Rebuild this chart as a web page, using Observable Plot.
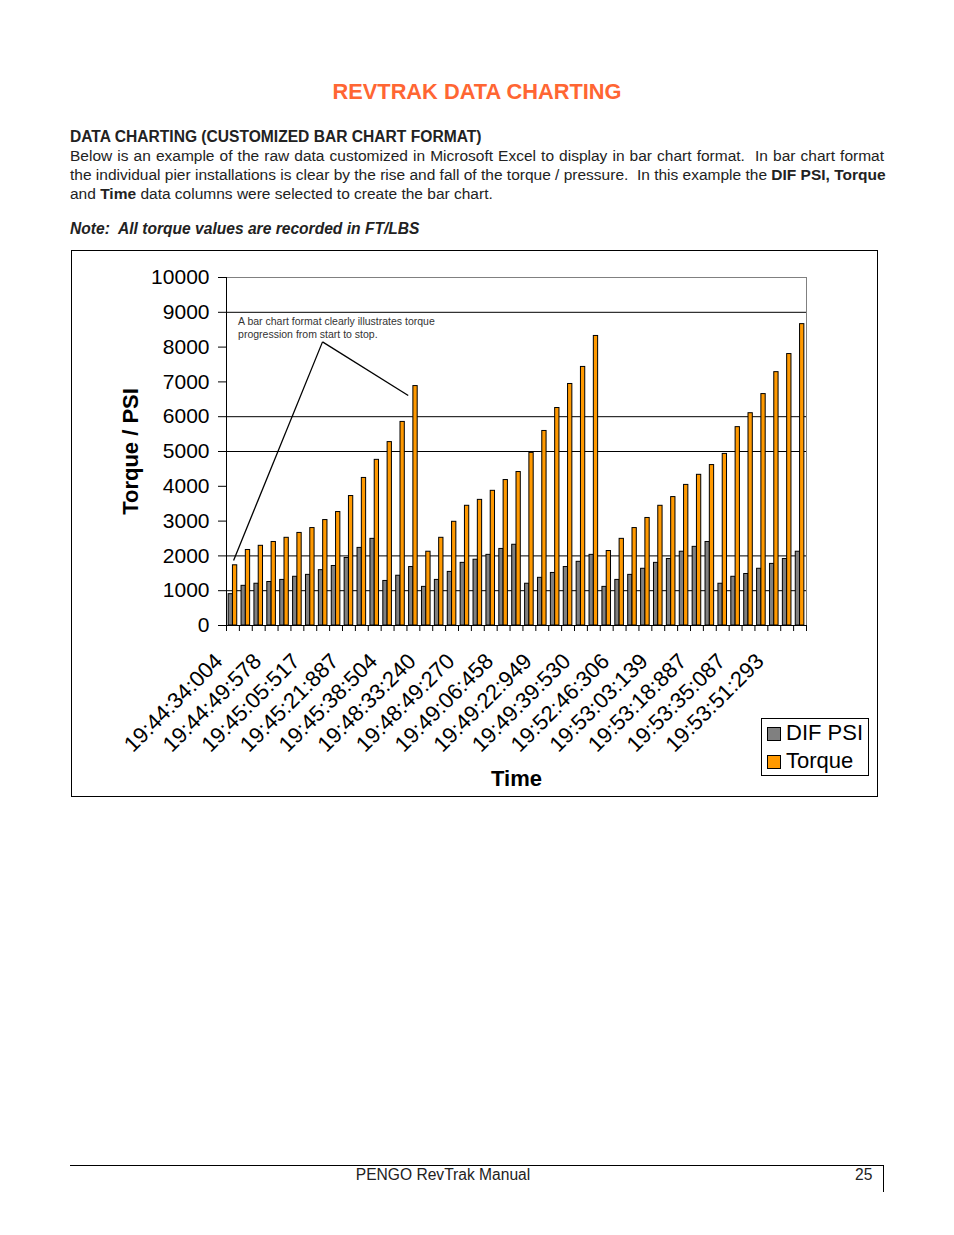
<!DOCTYPE html>
<html>
<head>
<meta charset="utf-8">
<script src="https://cdn.jsdelivr.net/npm/d3@7"></script>
<script src="https://cdn.jsdelivr.net/npm/@observablehq/plot@0.6"></script>
<style>
  body { margin: 0; background: #fff; font-family: "Liberation Sans", Arial, Helvetica, sans-serif; color: #222; }
  #page { position: relative; width: 954px; height: 1235px; overflow: hidden; }
  .abs { position: absolute; white-space: pre; }
  #title { left: 0; width: 954px; top: 79px; text-align: center; color: #FF6633; font-weight: bold; font-size: 21.8px; }
  #heading { left: 70px; top: 128px; font-weight: bold; font-size: 15.6px; }
  .pl { position: absolute; left: 70px; width: 814px; font-size: 15.5px; line-height: 19px; height: 19px; white-space: nowrap; }
  .just { text-align: justify; text-align-last: justify; }
  #note { left: 70px; top: 220px; font-weight: bold; font-style: italic; font-size: 15.6px; }
  #chartbox { position: absolute; left: 71px; top: 250px; width: 805px; height: 545px; border: 1px solid #000; }
  #chartbox svg { display: block; }
  #legend { position: absolute; left: 689px; top: 467px; width: 106px; height: 56px; border: 1px solid #000; background: #fff; font-size: 22px; color: #000; }
  .lrow { position: absolute; left: 5px; height: 26px; line-height: 26px; white-space: pre; }
  .sw { display: inline-block; width: 12px; height: 12px; border: 1px solid #000; vertical-align: -1px; margin-right: 5px; }
  #footline { position: absolute; left: 70px; top: 1165px; width: 813px; height: 0; border-top: 1px solid #000; }
  #footv { position: absolute; left: 883px; top: 1165px; width: 0; height: 27px; border-left: 1px solid #000; }
  #foottext { left: 0; width: 886px; top: 1166px; text-align: center; font-size: 15.6px; }
  #pagenum { left: 855px; top: 1166px; font-size: 15.6px; }
</style>
</head>
<body>
<div id="page">
  <div class="abs" id="title">REVTRAK DATA CHARTING</div>
  <div class="abs" id="heading">DATA CHARTING (CUSTOMIZED BAR CHART FORMAT)</div>
  <div class="pl just" style="top:146px">Below is an example of the raw data customized in Microsoft Excel to display in bar chart format.&nbsp; In bar chart format</div>
  <div class="pl just" style="top:165px">the individual pier installations is clear by the rise and fall of the torque / pressure.&nbsp; In this example the <b>DIF PSI, Torque</b></div>
  <div class="pl" style="top:184px">and <b>Time</b> data columns were selected to create the bar chart.</div>
  <div class="abs" id="note">Note:  All torque values are recorded in FT/LBS</div>
  <div id="chartbox">
    <div id="legend">
      <div class="lrow" style="top:1px"><span class="sw" style="background:#808080"></span>DIF PSI</div>
      <div class="lrow" style="top:29px"><span class="sw" style="background:#FF9900"></span>Torque</div>
    </div>
  </div>
  <div id="footline"></div>
  <div id="footv"></div>
  <div class="abs" id="foottext">PENGO RevTrak Manual</div>
  <div class="abs" id="pagenum">25</div>
</div>
<script>
// ---- data ----
const timeLabels = ["19:44:34:004","19:44:49:578","19:45:05:517","19:45:21:887","19:45:38:504",
  "19:48:33:240","19:48:49:270","19:49:06:458","19:49:22:949","19:49:39:530",
  "19:52:46:306","19:53:03:139","19:53:18:887","19:53:35:087","19:53:51:293"];
const labelEvery = 3;
const difPsi = [900,1140,1200,1250,1310,1400,1455,1590,1710,1940,2230,2490,1280,1430,1680,
  1110,1310,1540,1800,1890,2030,2200,2320,1200,1370,1510,1680,1830,2030,
  1110,1310,1455,1630,1800,1910,2120,2260,2400,1200,1400,1480,1630,1770,1910,2120];
const torque = [1730,2170,2290,2400,2520,2660,2800,3030,3260,3720,4240,4760,5270,5850,6880,
  2120,2520,2980,3440,3610,3870,4180,4410,4960,5590,6250,6940,7430,8320,
  2140,2490,2800,3090,3440,3690,4040,4330,4610,4930,5700,6100,6650,7280,7800,8660];
const seriesNames = ["DIF PSI", "Torque"];
const yTicks = [0,1000,2000,3000,4000,5000,6000,7000,8000,9000,10000];
const gridLines = [1000, 2000, 5000, 6000, 9000];
const noteText = "A bar chart format clearly illustrates torque\nprogression from start to stop.";
// annotation in data space: [group position, value]
const noteAt = {x: 0.9, y: 8900};
const calloutFrom = {x: 7.45, y: 8150};
const calloutTo = [{x: 0.55, y: 1870}, {x: 14.1, y: 6610}];

// ---- build ----
const n = difPsi.length;
const gapWidth = 1/3;            // Excel gap width
const barW = (1 - gapWidth) / 2;
const rows = [];
[difPsi, torque].forEach((vals, s) => vals.forEach((v, i) => {
  const x1 = i + gapWidth / 2 + s * barW;
  rows.push({series: seriesNames[s], x1, x2: x1 + barW, value: v});
}));
const labelPos = timeLabels.map((_, k) => k * labelEvery + 0.5);
const colors = {"DIF PSI": "#808080", "Torque": "#FF9900"};

const chart = Plot.plot({
  width: 805,
  height: 545,
  marginLeft: 154,
  marginRight: 71,
  marginTop: 26,
  marginBottom: 171,
  style: {fontFamily: "'Liberation Sans', Arial, sans-serif", color: "#000", background: "#fff"},
  x: {domain: [0, n], axis: null},
  y: {domain: [0, 10000], axis: null},
  marks: [
    Plot.frame({stroke: "#808080"}),
    Plot.ruleY(gridLines, {stroke: "#000", strokeWidth: 1}),
    Plot.rectY(rows, {x1: "x1", x2: "x2", y: "value", fill: d => colors[d.series], stroke: "#000", strokeWidth: 1}),
    Plot.ruleX([0], {stroke: "#000"}),
    Plot.ruleY([0], {stroke: "#000"}),
    Plot.axisY({ticks: yTicks, tickSize: 8, tickPadding: 9, fontSize: 21, tickFormat: d => String(d), label: null, stroke: "#000"}),
    Plot.axisX({ticks: d3.range(0, n + 1), tickSize: 6, tickFormat: () => "", label: null}),
    Plot.axisX({ticks: labelPos, tickSize: 0, tickRotate: -45, tickPadding: 12, fontSize: 22, dx: -14, dy: 20,
      tickFormat: d => timeLabels[Math.round((d - 0.5) / labelEvery)], label: null}),
    Plot.text(["Torque / PSI"], {frameAnchor: "left", textAnchor: "middle", dx: -96, rotate: -90, fontSize: 22, fontWeight: "bold", fill: "#000"}),
    Plot.text(["Time"], {frameAnchor: "bottom", dy: 160, fontSize: 22, fontWeight: "bold", fill: "#000"}),
    Plot.link(calloutTo, {x1: calloutFrom.x, y1: calloutFrom.y, x2: "x", y2: "y", stroke: "#000", strokeWidth: 1.3}),
    Plot.text([noteText], {x: noteAt.x, y: noteAt.y, textAnchor: "start", lineAnchor: "top", fontSize: 10.5, lineHeight: 1.25, fill: "#333"})
  ]
});
document.getElementById("chartbox").prepend(chart);
</script>
</body>
</html>
